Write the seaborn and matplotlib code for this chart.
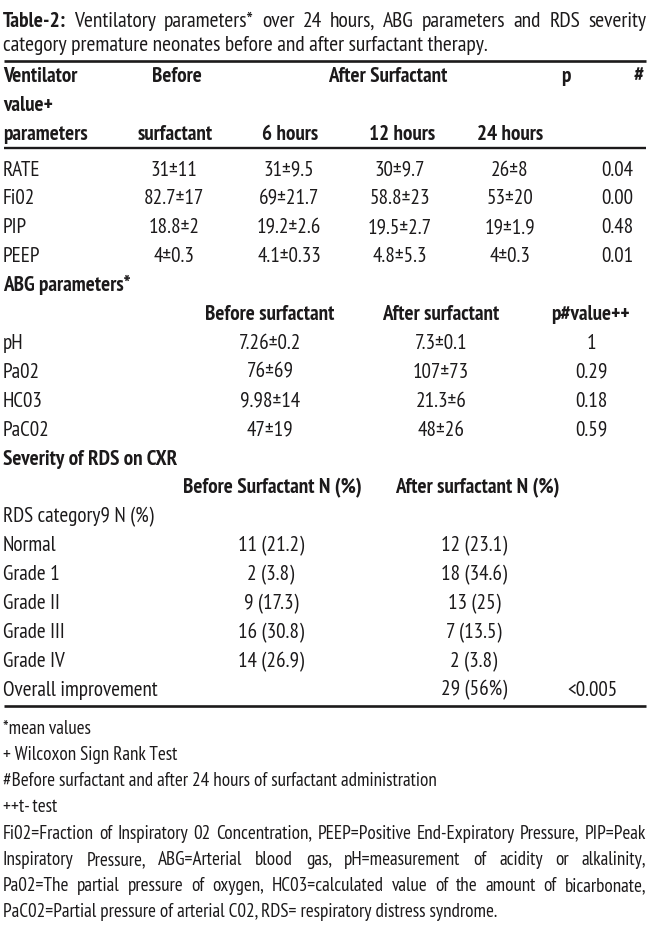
import matplotlib
matplotlib.use("Agg")
import matplotlib.pyplot as plt
import seaborn as sns
from matplotlib import font_manager as fm

# ---------------- data ----------------
title_bold = "Table-2:"
title_line1 = "Ventilatory parameters* over 24 hours, ABG parameters and RDS severity"
title_line2 = "category premature neonates before and after surfactant therapy."

vent_params = ["RATE", "Fi02", "PIP", "PEEP"]
vent_before = ["31±11", "82.7±17", "18.8±2", "4±0.3"]
vent_6h = ["31±9.5", "69±21.7", "19.2±2.6", "4.1±0.33"]
vent_12h = ["30±9.7", "58.8±23", "19.5±2.7", "4.8±5.3"]
vent_24h = ["26±8", "53±20", "19±1.9", "4±0.3"]
vent_p = ["0.04", "0.00", "0.48", "0.01"]

abg_params = ["pH", "Pa02", "HC03", "PaC02"]
abg_before = ["7.26±0.2", "76±69", "9.98±14", "47±19"]
abg_after = ["7.3±0.1", "107±73", "21.3±6", "48±26"]
abg_p = ["1", "0.29", "0.18", "0.59"]

rds_cats = ["Normal", "Grade 1", "Grade II", "Grade III", "Grade IV"]
rds_before = ["11 (21.2)", "2 (3.8)", "9 (17.3)", "16 (30.8)", "14 (26.9)"]
rds_after = ["12 (23.1)", "18 (34.6)", "13 (25)", "7 (13.5)", "2 (3.8)"]
overall_label = "Overall improvement"
overall_after = "29 (56%)"
overall_p = "<0.005"

footnotes_left = [
    "*mean values",
    "+ Wilcoxon Sign Rank Test",
    "#Before surfactant and after 24 hours of surfactant administration",
    "++t- test",
]
footnotes_justified = [
    "Fi02=Fraction of Inspiratory 02 Concentration, PEEP=Positive End-Expiratory Pressure, PIP=Peak",
    "Inspiratory Pressure, ABG=Arterial blood gas, pH=measurement of acidity or alkalinity,",
    "Pa02=The partial pressure of oxygen, HC03=calculated value of the amount of bicarbonate,",
]
footnote_last = "PaC02=Partial pressure of arterial C02, RDS= respiratory distress syndrome."

# ---------------- fonts / canvas ----------------
sns.set_theme(style="white")
weights = {}
for f in fm.fontManager.ttflist:
    if f.style == "normal":
        weights.setdefault(f.name, set()).add(int(f.weight) if str(f.weight).isdigit() else 400)
prefs = ["PT Sans Narrow", "Roboto Condensed", "Fira Sans Condensed", "Asap Condensed",
         "Encode Sans Condensed", "Archivo Narrow", "IBM Plex Sans Condensed",
         "Barlow Semi Condensed", "Open Sans Condensed", "Liberation Sans"]
FONT = "Liberation Sans"
for p in prefs:
    ws = weights.get(p, set())
    if any(w <= 450 for w in ws) and any(w >= 600 for w in ws):
        FONT = p
        break
plt.rcParams["font.family"] = [FONT, "DejaVu Sans"]

TXT = "#1c1a1b"
W, H = 650, 928
fig = plt.figure(figsize=(W / 100, H / 100), dpi=100)
ax = fig.add_axes([0, 0, 1, 1])
ax.set_xlim(0, W)
ax.set_ylim(H, 0)
ax.axis("off")
renderer = fig.canvas.get_renderer()


def width(s, size, weight="normal"):
    t = ax.text(0, 0, s, fontsize=size, fontweight=weight)
    w = t.get_window_extent(renderer).width
    t.remove()
    return w


# font sizes (pt) fitted to the reference text widths
FS_T = 10 * 487 / width(title_line2, 10)
FS_B = 10 * 155 / width(overall_label, 10)
FS_F = 10 * 438 / width(footnotes_left[2], 10)
# keep heights plausible if the face is much narrower/wider than the original
FS_T, FS_B, FS_F = (min(max(v, 11), 17) for v in (FS_T, FS_B, FS_F))


def txt(x, yc, s, size, ha="left", weight="normal"):
    off = 0.355 * size * 100 / 72
    ax.text(x, yc + off, s, ha=ha, va="baseline", fontsize=size,
            fontweight=weight, color=TXT)


def justify(words, yc, size, x0=3, x1=646):
    ws = [width(w, size, wt) for w, wt in words]
    gap = (x1 - x0 - sum(ws)) / (len(words) - 1)
    x = x0
    for (w, wt), wd in zip(words, ws):
        txt(x, yc, w, size, weight=wt)
        x += wd + gap


def rule(y, lw=1.9):
    ax.plot([4, 646], [y, y], color=TXT, lw=lw, solid_capstyle="butt")


def tb(x, y, s, ha="left", weight="normal"):
    txt(x, y, s, FS_B, ha=ha, weight=weight)


# ---------------- title ----------------
justify([(title_bold, "bold")] + [(w, "normal") for w in title_line1.split()], 19, FS_T)
txt(3, 43, title_line2, FS_T)

# ---------------- ventilator table ----------------
rule(62)
B = "bold"
tb(3, 74, "Ventilator", weight=B)
tb(177, 74, "Before", ha="center", weight=B)
tb(388, 74, "After Surfactant", ha="center", weight=B)
tb(566, 74, "p", ha="center", weight=B)
tb(639, 74, "#", ha="center", weight=B)
tb(3, 103, "value+", weight=B)
tb(3, 132, "parameters", weight=B)
tb(175, 132, "surfactant", ha="center", weight=B)
tb(290, 132, "6 hours", ha="center", weight=B)
tb(402, 132, "12 hours", ha="center", weight=B)
tb(510, 132, "24 hours", ha="center", weight=B)
rule(149, 1.7)

STEP = 28.9
Y0 = 168


def ry(i):
    return Y0 + STEP * i


for i, name in enumerate(vent_params):
    y = ry(i)
    tb(3, y, name)
    tb(174, y, vent_before[i], ha="center")
    tb(289, y, vent_6h[i], ha="center")
    tb(400, y, vent_12h[i], ha="center")
    tb(510, y, vent_24h[i], ha="center")
    tb(617, y, vent_p[i], ha="center")

# ---------------- ABG ----------------
tb(3, ry(4), "ABG parameters*", weight=B)
tb(270, ry(5), "Before surfactant", ha="center", weight=B)
tb(441, ry(5), "After surfactant", ha="center", weight=B)
tb(590, ry(5), "p#value++", ha="center", weight=B)
for i, name in enumerate(abg_params):
    y = ry(6 + i)
    tb(3, y, name)
    tb(270, y, abg_before[i], ha="center")
    tb(441, y, abg_after[i], ha="center")
    tb(591, y, abg_p[i], ha="center")

# ---------------- RDS ----------------
tb(3, ry(10), "Severity of RDS on CXR", weight=B)
tb(272, ry(11), "Before Surfactant N (%)", ha="center", weight=B)
tb(477, ry(11), "After surfactant N (%)", ha="center", weight=B)
tb(3, ry(12), "RDS category9 N (%)")
for i, name in enumerate(rds_cats):
    y = ry(13 + i)
    tb(3, y, name)
    tb(271, y, rds_before[i], ha="center")
    tb(474, y, rds_after[i], ha="center")
y = ry(18)
tb(3, y, overall_label)
tb(474, y, overall_after, ha="center")
tb(592, y, overall_p, ha="center")
rule(707)

# ---------------- footnotes ----------------
FSTEP = 26.2
for j, s in enumerate(footnotes_left):
    txt(3, 727 + FSTEP * j, s, FS_F)
for j, s in enumerate(footnotes_justified):
    justify([(w, "normal") for w in s.split()], 727 + FSTEP * (4 + j), FS_F)
txt(3, 727 + FSTEP * 7, footnote_last, FS_F)

fig.savefig("out.png", dpi=100, facecolor="white")
